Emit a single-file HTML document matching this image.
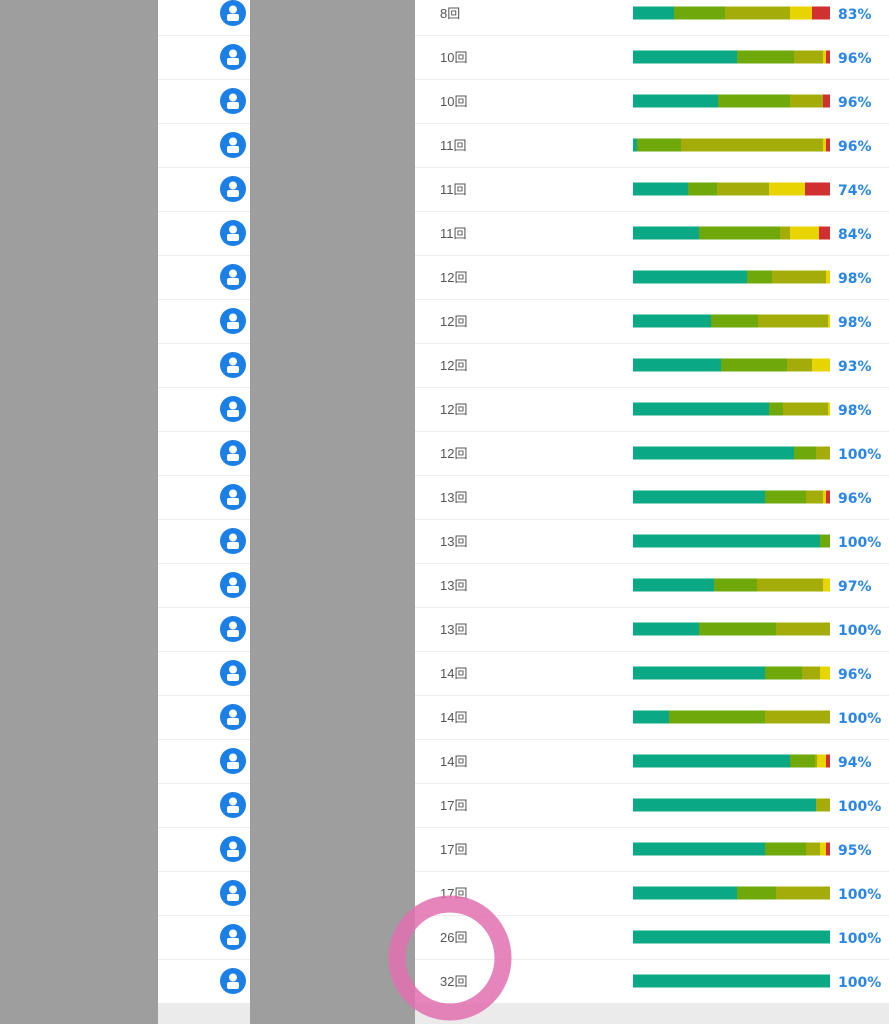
<!DOCTYPE html>
<html><head><meta charset="utf-8"><style>
html,body{margin:0;padding:0;width:889px;height:1024px;overflow:hidden;background:#fff}
svg{display:block}
.c{font-family:"Liberation Sans","Noto Sans CJK JP",sans-serif;font-size:13px;fill:#555}
.p{font-family:"DejaVu Sans","Liberation Sans",sans-serif;font-size:14px;font-weight:bold;fill:#2a86e6}
</style></head><body>
<svg width="889" height="1024" xmlns="http://www.w3.org/2000/svg">
<defs>
<g id="ic"><circle r="13" fill="#1a7fe6"/><circle cy="-3.5" r="4" fill="#fff"/><rect x="-6" y="1" width="12" height="7" rx="2" fill="#fff"/></g>
<g id="T"></g>
</defs>
<rect x="0" y="0" width="158" height="1024" fill="#9e9e9e"/>
<rect x="250" y="0" width="165" height="1024" fill="#9e9e9e"/>
<rect x="158" y="1003" width="92" height="21" fill="#ebebeb"/>
<rect x="415" y="1003" width="474" height="21" fill="#ebebeb"/>
<g stroke="#ececec" stroke-width="1">
<path d="M158 35.5H250M415 35.5H889M158 79.5H250M415 79.5H889M158 123.5H250M415 123.5H889M158 167.5H250M415 167.5H889M158 211.5H250M415 211.5H889M158 255.5H250M415 255.5H889M158 299.5H250M415 299.5H889M158 343.5H250M415 343.5H889M158 387.5H250M415 387.5H889M158 431.5H250M415 431.5H889M158 475.5H250M415 475.5H889M158 519.5H250M415 519.5H889M158 563.5H250M415 563.5H889M158 607.5H250M415 607.5H889M158 651.5H250M415 651.5H889M158 695.5H250M415 695.5H889M158 739.5H250M415 739.5H889M158 783.5H250M415 783.5H889M158 827.5H250M415 827.5H889M158 871.5H250M415 871.5H889M158 915.5H250M415 915.5H889M158 959.5H250M415 959.5H889"/>
</g>
<g>
<use href="#ic" x="233" y="13"/><use href="#ic" x="233" y="57"/><use href="#ic" x="233" y="101"/><use href="#ic" x="233" y="145"/><use href="#ic" x="233" y="189"/><use href="#ic" x="233" y="233"/><use href="#ic" x="233" y="277"/><use href="#ic" x="233" y="321"/><use href="#ic" x="233" y="365"/><use href="#ic" x="233" y="409"/><use href="#ic" x="233" y="453"/><use href="#ic" x="233" y="497"/><use href="#ic" x="233" y="541"/><use href="#ic" x="233" y="585"/><use href="#ic" x="233" y="629"/><use href="#ic" x="233" y="673"/><use href="#ic" x="233" y="717"/><use href="#ic" x="233" y="761"/><use href="#ic" x="233" y="805"/><use href="#ic" x="233" y="849"/><use href="#ic" x="233" y="893"/><use href="#ic" x="233" y="937"/><use href="#ic" x="233" y="981"/>
</g>
<g class="c">
<text x="440" y="18" class="c">8回</text><text x="440" y="62" class="c">10回</text><text x="440" y="106" class="c">10回</text><text x="440" y="150" class="c">11回</text><text x="440" y="194" class="c">11回</text><text x="440" y="238" class="c">11回</text><text x="440" y="282" class="c">12回</text><text x="440" y="326" class="c">12回</text><text x="440" y="370" class="c">12回</text><text x="440" y="414" class="c">12回</text><text x="440" y="458" class="c">12回</text><text x="440" y="502" class="c">13回</text><text x="440" y="546" class="c">13回</text><text x="440" y="590" class="c">13回</text><text x="440" y="634" class="c">13回</text><text x="440" y="678" class="c">14回</text><text x="440" y="722" class="c">14回</text><text x="440" y="766" class="c">14回</text><text x="440" y="810" class="c">17回</text><text x="440" y="854" class="c">17回</text><text x="440" y="898" class="c">17回</text><text x="440" y="942" class="c">26回</text><text x="440" y="986" class="c">32回</text>
</g>
<g>
<!-- row bars: y=c-6.5 h=13 -->
<g transform="translate(0,6.5)"><rect x="633" width="41" height="13" fill="#0aa884"/><rect x="674" width="51" height="13" fill="#6ea80a"/><rect x="725" width="65" height="13" fill="#a3ac08"/><rect x="790" width="22" height="13" fill="#e8d400"/><rect x="812" width="18" height="13" fill="#d03030"/></g>
<g transform="translate(0,50.5)"><rect x="633" width="104" height="13" fill="#0aa884"/><rect x="737" width="57" height="13" fill="#6ea80a"/><rect x="794" width="29" height="13" fill="#a3ac08"/><rect x="823" width="3" height="13" fill="#e8d400"/><rect x="826" width="4" height="13" fill="#d03030"/></g>
<g transform="translate(0,94.5)"><rect x="633" width="85" height="13" fill="#0aa884"/><rect x="718" width="72" height="13" fill="#6ea80a"/><rect x="790" width="33" height="13" fill="#a3ac08"/><rect x="823" width="7" height="13" fill="#d03030"/></g>
<g transform="translate(0,138.5)"><rect x="633" width="4" height="13" fill="#0aa884"/><rect x="637" width="44" height="13" fill="#6ea80a"/><rect x="681" width="142" height="13" fill="#a3ac08"/><rect x="823" width="3" height="13" fill="#e8d400"/><rect x="826" width="4" height="13" fill="#d03030"/></g>
<g transform="translate(0,182.5)"><rect x="633" width="55" height="13" fill="#0aa884"/><rect x="688" width="29" height="13" fill="#6ea80a"/><rect x="717" width="52" height="13" fill="#a3ac08"/><rect x="769" width="36" height="13" fill="#e8d400"/><rect x="805" width="25" height="13" fill="#d03030"/></g>
<g transform="translate(0,226.5)"><rect x="633" width="66" height="13" fill="#0aa884"/><rect x="699" width="81" height="13" fill="#6ea80a"/><rect x="780" width="10" height="13" fill="#a3ac08"/><rect x="790" width="29" height="13" fill="#e8d400"/><rect x="819" width="11" height="13" fill="#d03030"/></g>
<g transform="translate(0,270.5)"><rect x="633" width="114" height="13" fill="#0aa884"/><rect x="747" width="25" height="13" fill="#6ea80a"/><rect x="772" width="54" height="13" fill="#a3ac08"/><rect x="826" width="4" height="13" fill="#e8d400"/></g>
<g transform="translate(0,314.5)"><rect x="633" width="78" height="13" fill="#0aa884"/><rect x="711" width="47" height="13" fill="#6ea80a"/><rect x="758" width="70" height="13" fill="#a3ac08"/><rect x="828" width="2" height="13" fill="#e8d400"/></g>
<g transform="translate(0,358.5)"><rect x="633" width="88" height="13" fill="#0aa884"/><rect x="721" width="66" height="13" fill="#6ea80a"/><rect x="787" width="25" height="13" fill="#a3ac08"/><rect x="812" width="18" height="13" fill="#e8d400"/></g>
<g transform="translate(0,402.5)"><rect x="633" width="136" height="13" fill="#0aa884"/><rect x="769" width="14" height="13" fill="#6ea80a"/><rect x="783" width="45" height="13" fill="#a3ac08"/><rect x="828" width="2" height="13" fill="#e8d400"/></g>
<g transform="translate(0,446.5)"><rect x="633" width="161" height="13" fill="#0aa884"/><rect x="794" width="22" height="13" fill="#6ea80a"/><rect x="816" width="14" height="13" fill="#a3ac08"/></g>
<g transform="translate(0,490.5)"><rect x="633" width="132" height="13" fill="#0aa884"/><rect x="765" width="41" height="13" fill="#6ea80a"/><rect x="806" width="17" height="13" fill="#a3ac08"/><rect x="823" width="3" height="13" fill="#e8d400"/><rect x="826" width="4" height="13" fill="#d03030"/></g>
<g transform="translate(0,534.5)"><rect x="633" width="187" height="13" fill="#0aa884"/><rect x="820" width="10" height="13" fill="#6ea80a"/></g>
<g transform="translate(0,578.5)"><rect x="633" width="81" height="13" fill="#0aa884"/><rect x="714" width="43" height="13" fill="#6ea80a"/><rect x="757" width="66" height="13" fill="#a3ac08"/><rect x="823" width="7" height="13" fill="#e8d400"/></g>
<g transform="translate(0,622.5)"><rect x="633" width="66" height="13" fill="#0aa884"/><rect x="699" width="77" height="13" fill="#6ea80a"/><rect x="776" width="54" height="13" fill="#a3ac08"/></g>
<g transform="translate(0,666.5)"><rect x="633" width="132" height="13" fill="#0aa884"/><rect x="765" width="37" height="13" fill="#6ea80a"/><rect x="802" width="18" height="13" fill="#a3ac08"/><rect x="820" width="10" height="13" fill="#e8d400"/></g>
<g transform="translate(0,710.5)"><rect x="633" width="36" height="13" fill="#0aa884"/><rect x="669" width="96" height="13" fill="#6ea80a"/><rect x="765" width="65" height="13" fill="#a3ac08"/></g>
<g transform="translate(0,754.5)"><rect x="633" width="157" height="13" fill="#0aa884"/><rect x="790" width="25" height="13" fill="#6ea80a"/><rect x="815" width="2" height="13" fill="#a3ac08"/><rect x="817" width="9" height="13" fill="#e8d400"/><rect x="826" width="4" height="13" fill="#d03030"/></g>
<g transform="translate(0,798.5)"><rect x="633" width="183" height="13" fill="#0aa884"/><rect x="816" width="14" height="13" fill="#a3ac08"/></g>
<g transform="translate(0,842.5)"><rect x="633" width="132" height="13" fill="#0aa884"/><rect x="765" width="41" height="13" fill="#6ea80a"/><rect x="806" width="14" height="13" fill="#a3ac08"/><rect x="820" width="6" height="13" fill="#e8d400"/><rect x="826" width="4" height="13" fill="#d03030"/></g>
<g transform="translate(0,886.5)"><rect x="633" width="104" height="13" fill="#0aa884"/><rect x="737" width="39" height="13" fill="#6ea80a"/><rect x="776" width="54" height="13" fill="#a3ac08"/></g>
<g transform="translate(0,930.5)"><rect x="633" width="197" height="13" fill="#0aa884"/></g>
<g transform="translate(0,974.5)"><rect x="633" width="197" height="13" fill="#0aa884"/></g>
</g>
<g>
<text x="838" y="19" class="p">83%</text><text x="838" y="63" class="p">96%</text><text x="838" y="107" class="p">96%</text><text x="838" y="151" class="p">96%</text><text x="838" y="195" class="p">74%</text><text x="838" y="239" class="p">84%</text><text x="838" y="283" class="p">98%</text><text x="838" y="327" class="p">98%</text><text x="838" y="371" class="p">93%</text><text x="838" y="415" class="p">98%</text><text x="838" y="459" class="p">100%</text><text x="838" y="503" class="p">96%</text><text x="838" y="547" class="p">100%</text><text x="838" y="591" class="p">97%</text><text x="838" y="635" class="p">100%</text><text x="838" y="679" class="p">96%</text><text x="838" y="723" class="p">100%</text><text x="838" y="767" class="p">94%</text><text x="838" y="811" class="p">100%</text><text x="838" y="855" class="p">95%</text><text x="838" y="899" class="p">100%</text><text x="838" y="943" class="p">100%</text><text x="838" y="987" class="p">100%</text>
</g>
<ellipse cx="450" cy="958" rx="53" ry="54" fill="none" stroke="#e070b0" stroke-opacity="0.85" stroke-width="17"/>
</svg>
</body></html>
